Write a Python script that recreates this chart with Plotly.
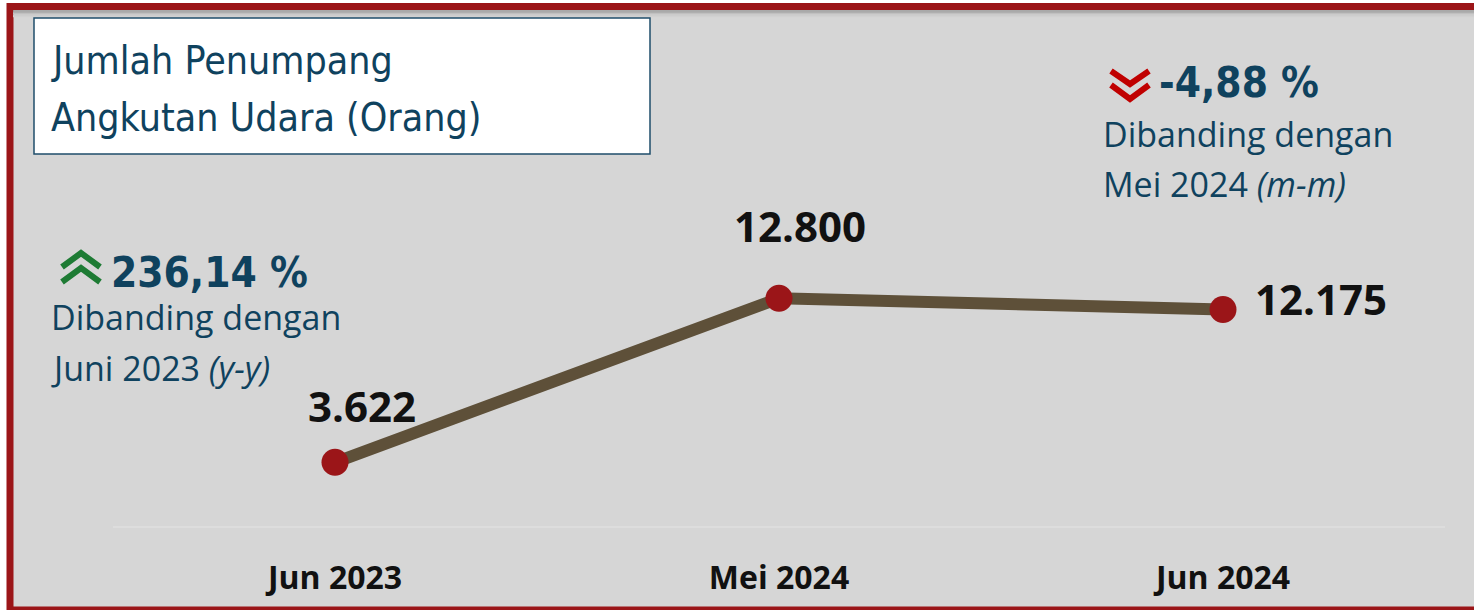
import plotly.graph_objects as go

# data
periods = ["Jun 2023", "Mei 2024", "Jun 2024"]
passengers = [3622, 12800, 12175]

title_lines = ["Jumlah Penumpang", "Angkutan Udara (Orang)"]

W, H = 1474, 610
TEXT_BLUE = "#0F425E"
RED = "#9B1518"
NARROW = "DejaVu Sans Condensed, Roboto, sans-serif"


def px(x):
    return x / W


def py(y):
    return 1 - y / H


def fmt_id(v, dec=0):
    s = f"{v:,.{dec}f}"
    return s.replace(",", "#").replace(".", ",").replace("#", ".")


yoy = (passengers[2] - passengers[0]) / passengers[0] * 100
mtm = (passengers[2] - passengers[1]) / passengers[1] * 100

fig = go.Figure()
fig.add_trace(
    go.Scatter(
        x=periods,
        y=passengers,
        mode="lines+markers",
        line=dict(color="#5E5039", width=12),
        marker=dict(color=RED, size=27),
        hoverinfo="skip",
        showlegend=False,
    )
)

# value labels
label_pos = [
    dict(xanchor="center", xshift=27, yshift=57),
    dict(xanchor="center", xshift=21, yshift=73),
    dict(xanchor="left", xshift=30, yshift=11),
]
annotations = []
for p, v, pos in zip(periods, passengers, label_pos):
    annotations.append(
        dict(
            x=p, y=v, xref="x", yref="y", text=f"<b>{fmt_id(v)}</b>",
            showarrow=False, yanchor="middle",
            font=dict(family="Open Sans", size=42, color="#111111"),
            **pos,
        )
    )


def txt(x, y, text, size, family="Open Sans", color=TEXT_BLUE):
    annotations.append(
        dict(
            x=px(x), y=py(y), xref="paper", yref="paper", text=text,
            showarrow=False, xanchor="left", yanchor="middle",
            font=dict(family=family, size=size, color=color),
        )
    )


txt(49, 60, title_lines[0], 39, NARROW)
txt(49, 117, title_lines[1], 39, NARROW)

txt(109, 272, f"<b>{fmt_id(yoy, 2)} %</b>", 42, NARROW)
txt(49, 317, "Dibanding dengan", 34)
txt(49, 368, "Juni 2023 <i>(y-y)</i>", 34)

txt(1157, 83, f"<b>{fmt_id(mtm, 2)} %</b>", 42, NARROW)
txt(1101, 134, "Dibanding dengan", 34)
txt(1101, 184, "Mei 2024 <i>(m-m)</i>", 34)


def chevron(pts):
    return "M " + " L ".join(f"{px(a)},{py(b)}" for a, b in pts)


shapes = [
    # panel with red frame
    dict(type="rect", xref="paper", yref="paper", layer="below",
         x0=px(10), x1=px(1490), y0=py(6.5), y1=py(610),
         fillcolor="#D6D6D6", line=dict(color=RED, width=7)),
]
# soft shadow under the top border
for i, c in enumerate(["#9A9A9A", "#AFAFAF", "#C0C0C0", "#CBCBCB", "#D1D1D1"]):
    shapes.append(dict(type="line", xref="paper", yref="paper", layer="below",
                       x0=px(13), x1=px(1474), y0=py(11 + i * 1.4), y1=py(11 + i * 1.4),
                       line=dict(color=c, width=1.5)))
shapes += [
    # title box
    dict(type="rect", xref="paper", yref="paper", layer="below",
         x0=px(34), x1=px(650), y0=py(18), y1=py(154),
         fillcolor="white", line=dict(color="#1F4E6B", width=1.5)),
    # green double chevron up
    dict(type="path", xref="paper", yref="paper",
         path=chevron([(62, 267), (81, 253), (100, 267)]),
         line=dict(color="#1E7B34", width=6)),
    dict(type="path", xref="paper", yref="paper",
         path=chevron([(62, 282), (81, 268), (100, 282)]),
         line=dict(color="#1E7B34", width=6)),
    # red double chevron down
    dict(type="path", xref="paper", yref="paper",
         path=chevron([(1111, 71), (1130, 84), (1149, 71)]),
         line=dict(color="#C00000", width=6)),
    dict(type="path", xref="paper", yref="paper",
         path=chevron([(1111, 85), (1130, 99), (1149, 85)]),
         line=dict(color="#C00000", width=6)),
]

fig.update_layout(
    width=W,
    height=H,
    margin=dict(l=0, r=0, t=0, b=0),
    paper_bgcolor="white",
    plot_bgcolor="rgba(0,0,0,0)",
    shapes=shapes,
    annotations=annotations,
    xaxis=dict(
        domain=[px(113), px(1445)],
        range=[-0.5, 2.5],
        showgrid=False,
        zeroline=False,
        showline=False,
        ticks="",
        ticklabelstandoff=29,
        tickfont=dict(family="Open Sans", size=32, color="#111111", weight="bold"),
        fixedrange=True,
    ),
    yaxis=dict(
        domain=[py(527), py(40)],
        range=[0, (527 - 40) / ((462 - 298) / (passengers[1] - passengers[0]))],
        showgrid=False,
        zeroline=True,
        zerolinecolor="#DDDDDD",
        zerolinewidth=1.5,
        showticklabels=False,
        fixedrange=True,
    ),
)

fig.write_html(
    "out.html",
    config={"displayModeBar": False},
    post_script="document.body.style.margin='0';document.body.style.overflow='hidden';",
)
